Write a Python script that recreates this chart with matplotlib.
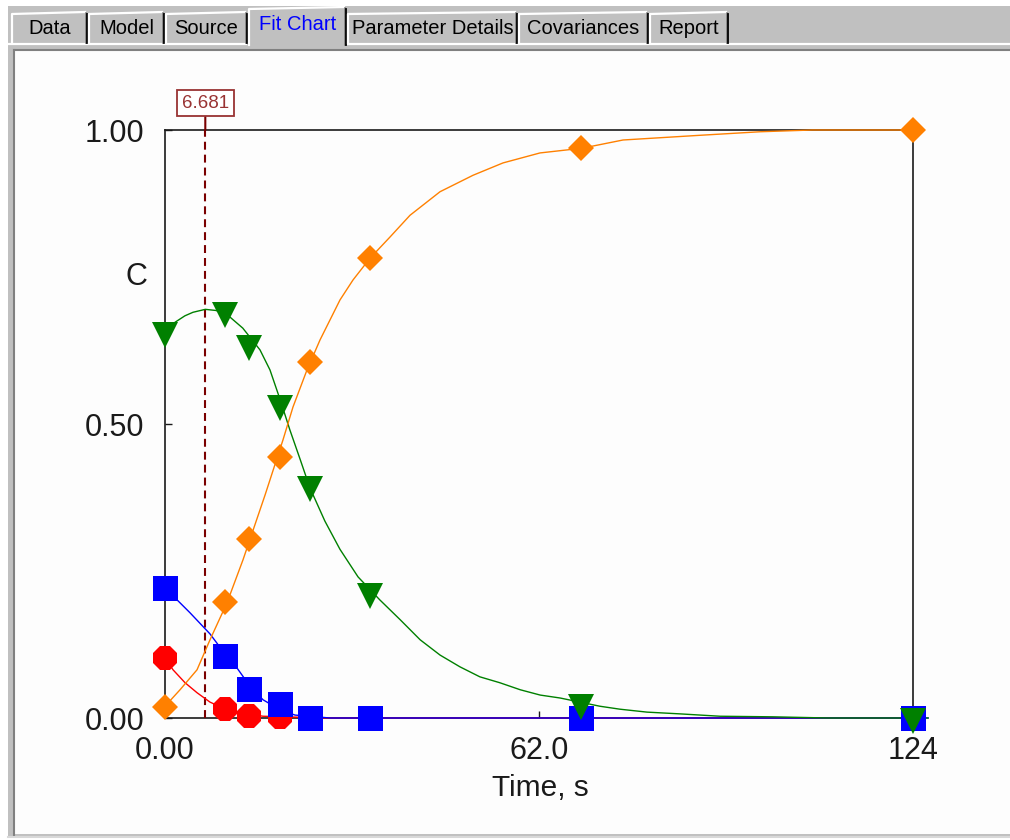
import matplotlib
matplotlib.use("Agg")
import matplotlib.pyplot as plt
from matplotlib.patches import Rectangle

plt.rcParams['font.family'] = ['Liberation Sans', 'DejaVu Sans']

# ---------------- data ----------------
tabs = ["Data", "Model", "Source", "Fit Chart", "Parameter Details", "Covariances", "Report"]
tab_edges = [10, 87, 164, 247, 346, 517, 648, 728]
active_tab = "Fit Chart"

time = [0, 10, 14, 19, 24, 34, 69, 124]
red = [0.102, 0.016, 0.003, 0.002, 0.0, 0.0, 0.0, 0.0]
blue = [0.221, 0.105, 0.049, 0.023, 0.0, 0.0, 0.0, 0.0]
green = [0.651, 0.686, 0.630, 0.527, 0.389, 0.208, 0.019, -0.005]
orange = [0.019, 0.198, 0.304, 0.444, 0.606, 0.782, 0.970, 1.0]

fit_red_t = [0, 1.33, 3.32, 5.31, 7.46, 9.62, 12.43, 16.25, 26.9, 124]
fit_red_c = [0.102, 0.082, 0.060, 0.043, 0.027, 0.017, 0.009, 0.003, 0.0, 0.0]

fit_blue_t = [0, 1.99, 4.14, 7.46, 9.95, 11.94, 14.09, 16.25, 19.07, 21.55, 27.35, 126.5]
fit_blue_c = [0.221, 0.201, 0.179, 0.143, 0.109, 0.085, 0.054, 0.031, 0.014, 0.005, 0.0, 0.0]

fit_green_t = [0, 1.66, 3.3, 4.64, 6.68, 8.5, 10.3, 12.9, 15.75, 17.4, 19.1, 20.7, 22.4,
               24.0, 26.5, 29.0, 32.0, 35.6, 39.0, 42.3, 45.6, 48.9, 52.2, 55.5, 58.9,
               62.2, 65.5, 68.8, 72.1, 75.4, 79.9, 85.4, 92.0, 100.8, 110, 126.5]
fit_green_c = [0.650, 0.673, 0.684, 0.690, 0.695, 0.693, 0.686, 0.663, 0.626, 0.592, 0.541,
               0.490, 0.440, 0.392, 0.335, 0.287, 0.240, 0.201, 0.167, 0.133, 0.107, 0.087,
               0.070, 0.060, 0.048, 0.039, 0.034, 0.027, 0.020, 0.015, 0.010, 0.007, 0.003,
               0.002, 0.0, 0.0]

fit_orange_t = [0, 2.49, 5.31, 7.46, 10.28, 12.93, 14.09, 16.58, 19.56, 21.22, 23.54, 25.70,
                29.01, 31.17, 33.99, 37.30, 40.62, 45.59, 51.06, 56.03, 62.17, 69.13, 75.93,
                88.69, 98.64, 107.3, 124]
fit_orange_c = [0.020, 0.048, 0.082, 0.133, 0.196, 0.269, 0.304, 0.379, 0.473, 0.529, 0.592,
                0.643, 0.711, 0.745, 0.782, 0.818, 0.855, 0.895, 0.923, 0.944, 0.961, 0.969,
                0.983, 0.991, 0.997, 1.0, 1.0]

cursor_t = 6.681
x_ticks = [0, 62, 124]
x_tick_labels = ["0.00", "62.0", "124"]
y_ticks = [0, 0.5, 1.0]
y_tick_labels = ["0.00", "0.50", "1.00"]

# ---------------- figure ----------------
W, H = 1010, 840
fig = plt.figure(figsize=(W / 100, H / 100), dpi=100, facecolor='white')

# window chrome drawn in pixel coordinates
bg = fig.add_axes([0, 0, 1, 1])
bg.set_xlim(0, W)
bg.set_ylim(H, 0)
bg.axis('off')

GRAY = '#c0c0c0'
bg.add_patch(Rectangle((8, 6), W - 8, 832, facecolor=GRAY, edgecolor='none'))
# panel top highlight
bg.plot([8, W], [43.5, 43.5], color='white', lw=1.6)
# inner dark border
bg.plot([13.5, W], [49.5, 49.5], color='#808080', lw=1.5)
bg.plot([13.5, 13.5], [49.5, 835], color='#808080', lw=1.5)
bg.add_patch(Rectangle((15, 51), W - 15, 783, facecolor='#fdfdfd', edgecolor='none'))
bg.plot([8, W], [836.5, 836.5], color='#d8d8d8', lw=1.5)

# tabs
for i, name in enumerate(tabs):
    x0, x1 = tab_edges[i] + 2, tab_edges[i + 1]
    active = name == active_tab
    top = 7 if active else 12
    bottom = 45 if active else 43
    if active:
        bg.add_patch(Rectangle((x0 - 2, top), x1 - x0 + 3, bottom - top + 1,
                               facecolor=GRAY, edgecolor='none', zorder=3))
    bg.plot([x0, x0, x1 - 2], [bottom, top + 2, top], color='white', lw=1.6, zorder=4)
    bg.plot([x1 - 1.5, x1 - 1.5], [top + 1, bottom], color='#808080', lw=1.2, zorder=4)
    bg.plot([x1, x1], [top + 2, bottom], color='black', lw=1.3, zorder=4)
    bg.text((x0 + x1) / 2, 25 if active else 28, name, ha='center', va='center',
            fontsize=14.5, color='#0000ff' if active else 'black', zorder=5)

# ---------------- chart ----------------
ax = fig.add_axes([165 / W, 1 - 718 / H, 748 / W, 588 / H])
ax.set_facecolor('none')
ax.set_xlim(0, 124)
ax.set_ylim(0, 1.0)

for s in ax.spines.values():
    s.set_linewidth(1.2)
    s.set_color('#1a1a1a')
    s.set_zorder(2.5)

ax.set_xticks(x_ticks)
ax.set_xticklabels(x_tick_labels)
ax.set_yticks(y_ticks)
ax.set_yticklabels(y_tick_labels)
ax.tick_params(axis='both', direction='in', length=5, width=1.0, labelsize=22,
               colors='#1a1a1a')
ax.tick_params(axis='x', pad=13)
ax.tick_params(axis='y', pad=15)

# cursor line
ax.axvline(cursor_t, color='#7a0000', lw=1.5, ls=(0, (3.8, 2.4)), zorder=2.6)
ax.annotate(f"{cursor_t:.3f}", xy=(cursor_t, 1.0), xycoords='data',
            xytext=(0, 19.4), textcoords='offset points', ha='center', va='center',
            fontsize=13.5, color='#993333', annotation_clip=False,
            bbox=dict(boxstyle='square,pad=0.25', fc='white', ec='#993333', lw=1.3),
            arrowprops=dict(arrowstyle='-', color='#7a0000', lw=1.5, shrinkA=0, shrinkB=0))

# fitted curves
ax.plot(fit_red_t, fit_red_c, color='#ff0000', lw=1.0, zorder=3, clip_on=False)
ax.plot(fit_blue_t, fit_blue_c, color='#0000ff', lw=1.0, zorder=3, clip_on=False)
ax.plot(fit_green_t, fit_green_c, color='#008000', lw=1.0, zorder=3, clip_on=False)
ax.plot(fit_orange_t, fit_orange_c, color='#ff8000', lw=1.0, zorder=3, clip_on=False)

# data markers
ax.plot(time, red, ls='none', marker='8', ms=19, color='#ff0000', mew=0, zorder=4, clip_on=False)
ax.plot(time, blue, ls='none', marker='s', ms=18, color='#0000ff', mew=0, zorder=4, clip_on=False)
ax.plot(time, green, ls='none', marker='v', ms=18.5, color='#008000', mew=0, zorder=4, clip_on=False)
ax.plot(time, orange, ls='none', marker='D', ms=13.7, color='#ff8000', mew=0, zorder=4, clip_on=False)

fig.text(540 / W, 1 - 788 / H, "Time, s", ha='center', va='center', fontsize=21.5, color='#1a1a1a')
fig.text(136 / W, 1 - 277 / H, "C", ha='center', va='center', fontsize=22, color='#1a1a1a')

fig.savefig("out.png", dpi=100, facecolor='white')
